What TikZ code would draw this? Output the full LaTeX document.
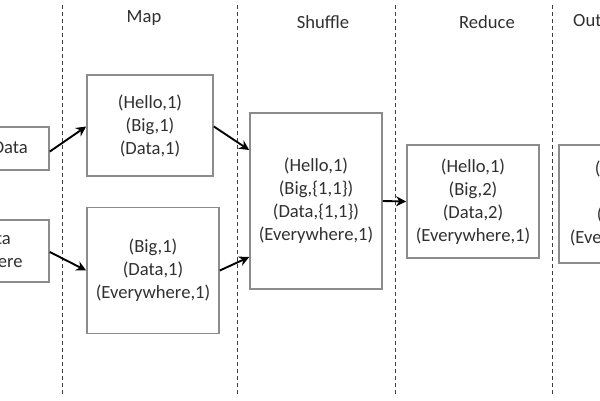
\documentclass[tikz,border=0pt]{standalone}
\usepackage{fontspec}
\setmainfont{Carlito}
\usetikzlibrary{arrows.meta}
\definecolor{txt}{HTML}{303030}
\definecolor{bord}{HTML}{8C8C8C}
\tikzset{
  stagebox/.style={draw=bord, line width=1.7pt, align=center, text=txt, inner sep=0pt,
    font=\fontsize{18.6}{23}\selectfont},
  title/.style={text=txt, font=\fontsize{18.6}{23}\selectfont, inner sep=0pt},
  flow/.style={line width=1.9pt, -{Stealth[length=10pt,width=10pt]}, black},
  sep/.style={dash pattern=on 4pt off 3pt, line width=0.9pt, color=black!75}
}
\begin{document}
\begin{tikzpicture}[x=1pt,y=-1pt]
\useasboundingbox (0,0) rectangle (600,400);
\clip (0,0) rectangle (600,400);
% separators
\foreach \xx in {62,237,395,552} \draw[sep] (\xx,5) -- (\xx,396);
% titles
\node[title] (tmap) at (144,18) {Map};
\node[title] (tshuf) at (323,22) {Shuffle};
\node[title] (tred) at (487,22) {Reduce};
\node[title, anchor=west] (tout) at (573,22) {Output};
% boxes
\node[stagebox, minimum width=139pt, minimum height=43pt] (in1) at (-20.5,148.5) {Hello Big Data\hspace*{9pt}};
\node[stagebox, minimum width=139pt, minimum height=62pt] (in2) at (-20.5,251) {Big Data\\Everywhere\hspace*{3pt}};
\node[stagebox, minimum width=126pt, minimum height=101pt] (m1) at (150,125.5) {(Hello,1)\\(Big,1)\\(Data,1)};
\node[stagebox, minimum width=132pt, minimum height=126pt] (m2) at (153,270.5) {(Big,1)\\(Data,1)\\(Everywhere,1)};
\node[stagebox, minimum width=132pt, minimum height=176pt] (sh) at (316,201) {(Hello,1)\\(Big,\{1,1\})\\(Data,\{1,1\})\\(Everywhere,1)};
\node[stagebox, minimum width=132pt, minimum height=113pt] (rd) at (473,201.5) {(Hello,1)\\(Big,2)\\(Data,2)\\(Everywhere,1)};
\node[stagebox, minimum width=136pt, minimum height=118pt] (out) at (627,204) {(Hello,1)\\(Big,2)\\(Data,2)\\(Everywhere,1)};
% arrows
\draw[flow] ([yshift=-3pt]in1.east) -- ([yshift=-1pt]m1.west);
\draw[flow] ([yshift=-1pt]in2.east) -- (m2.west);
\draw[flow] ([yshift=-1pt]m1.east) -- ([yshift=51pt]sh.west);
\draw[flow] ([yshift=0pt]m2.east) -- ([yshift=-56pt]sh.west);
\draw[flow] (sh.east) -- (rd.west);
\end{tikzpicture}
\end{document}
